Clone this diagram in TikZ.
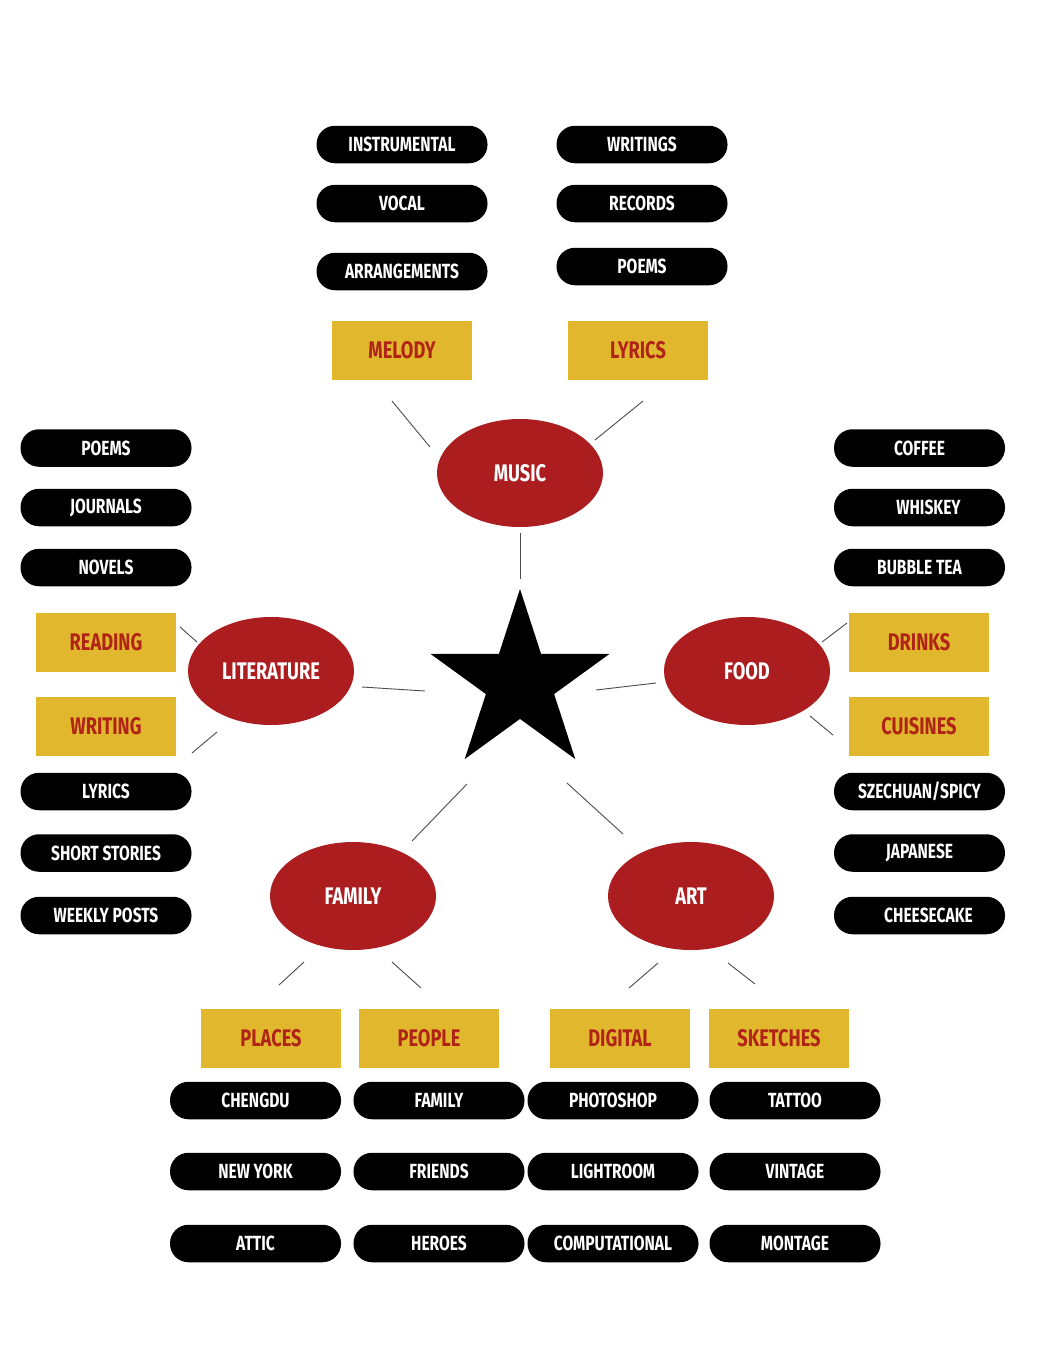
\documentclass[tikz,border=0pt]{standalone}
\usepackage{fontspec}
\usetikzlibrary{shapes.geometric}
\newfontfamily\labelfont{Fira Sans}[FakeStretch=0.76]
\definecolor{topicred}{RGB}{172,29,32}
\definecolor{tagyellow}{RGB}{225,183,46}
\definecolor{tagred}{RGB}{176,36,24}
\tikzset{
  pill/.style={rounded corners=18.5pt, fill=black, text=white, minimum width=171pt, minimum height=37.5pt, inner sep=0pt, font=\labelfont\bfseries\fontsize{20.5}{24}\selectfont},
  tag/.style={rectangle, fill=tagyellow, text=tagred, minimum width=140pt, minimum height=59pt, inner sep=0pt, font=\labelfont\bfseries\fontsize{24}{28}\selectfont},
  topic/.style={ellipse, fill=topicred, text=white, minimum width=166pt, minimum height=108pt, inner sep=0pt, font=\labelfont\bfseries\fontsize{24}{28}\selectfont},
  link/.style={draw=black!70, line width=0.9pt}
}
\begin{document}
\begin{tikzpicture}[x=1pt, y=-1pt]
    \fill[white] (0,0) rectangle (1038,1346);
    \useasboundingbox (0,0) rectangle (1038,1346);

    \node [star, star points=5, star point ratio=2.62, fill=black, minimum size=188pt, inner sep=0pt] (hub) at (520,683) {};

    \begin{scope}[every node/.style={topic}]
        \node (music) at (520,473) {MUSIC};
        \node (lit) at (271,671) {LITERATURE};
        \node (food) at (747,671) {FOOD};
        \node (family) at (353,896) {FAMILY};
        \node (art) at (691,896) {ART};
    \end{scope}

    \begin{scope}[every node/.style={tag}]
        \node (melody) at (402,350) {MELODY};
        \node (lyrics) at (638,350) {LYRICS};
        \node (reading) at (106,642) {READING};
        \node (writing) at (106,726) {WRITING};
        \node (drinks) at (919,642) {DRINKS};
        \node (cuisines) at (919,726) {CUISINES};
        \node (places) at (271,1038) {PLACES};
        \node (people) at (429,1038) {PEOPLE};
        \node (digital) at (620,1038) {DIGITAL};
        \node (sketches) at (779,1038) {SKETCHES};
    \end{scope}

    \begin{scope}[every node/.style={pill}]
        \node (instr) at (402,144.5) {INSTRUMENTAL};
        \node (vocal) at (402,203.5) {VOCAL};
        \node (arrange) at (402,271.5) {ARRANGEMENTS};
        \node (writings) at (642,144.5) {WRITINGS};
        \node (records) at (642,203.5) {RECORDS};
        \node (poemsm) at (642,266.5) {POEMS};

        \node (poemsl) at (106,448) {POEMS};
        \node (journals) at (106,507.5) {JOURNALS};
        \node (novels) at (106,567.5) {NOVELS};
        \node (lyricsl) at (106,791.5) {LYRICS};
        \node (stories) at (106,853) {SHORT STORIES};
        \node (posts) at (106,915.5) {WEEKLY POSTS};

        \node (coffee) at (919.5,448) {COFFEE};
        \node (whiskey) at (919.5,507.5) {\hspace*{18pt}WHISKEY};
        \node (bubble) at (919.5,567.5) {BUBBLE TEA};
        \node (szechuan) at (919.5,791.5) {SZECHUAN/SPICY};
        \node (japanese) at (919.5,853) {JAPANESE};
        \node (cheese) at (919.5,915.5) {\hspace*{18pt}CHEESECAKE};

        \node (chengdu) at (255.5,1100.5) {CHENGDU};
        \node (newyork) at (255.5,1171.5) {NEW YORK};
        \node (attic) at (255.5,1243.5) {ATTIC};
        \node (familyp) at (439,1100.5) {FAMILY};
        \node (friends) at (439,1171.5) {FRIENDS};
        \node (heroes) at (439,1243.5) {HEROES};
        \node (photoshop) at (613,1100.5) {PHOTOSHOP};
        \node (lightroom) at (613,1171.5) {LIGHTROOM};
        \node (computational) at (613,1243.5) {COMPUTATIONAL};
        \node (tattoo) at (795,1100.5) {TATTOO};
        \node (vintage) at (795,1171.5) {VINTAGE};
        \node (montage) at (795,1243.5) {MONTAGE};
    \end{scope}

    \begin{scope}[link]
        \draw ([shift={(0,60)}]music.center) -- ([shift={(0,-104)}]hub.center);
        \draw ([shift={(91,16)}]lit.center) -- ([shift={(-95,8)}]hub.center);
        \draw ([shift={(-91,12)}]food.center) -- ([shift={(76,7)}]hub.center);
        \draw ([shift={(59,-55)}]family.center) -- ([shift={(-53,101)}]hub.center);
        \draw ([shift={(-68,-62)}]art.center) -- ([shift={(47,100)}]hub.center);

        \draw ([shift={(-10,51)}]melody.center) -- ([shift={(-90,-26)}]music.center);
        \draw ([shift={(5,51)}]lyrics.center) -- ([shift={(75,-33)}]music.center);
        \draw ([shift={(74,-15)}]reading.center) -- ([shift={(-74,-29)}]lit.center);
        \draw ([shift={(86,27)}]writing.center) -- ([shift={(-54,61)}]lit.center);
        \draw ([shift={(-72,-19)}]drinks.center) -- ([shift={(75,-29)}]food.center);
        \draw ([shift={(-86,9)}]cuisines.center) -- ([shift={(63,45)}]food.center);
        \draw ([shift={(8,-53)}]places.center) -- ([shift={(-49,66)}]family.center);
        \draw ([shift={(-8,-50)}]people.center) -- ([shift={(39,66)}]family.center);
        \draw ([shift={(9,-50)}]digital.center) -- ([shift={(-33,67)}]art.center);
        \draw ([shift={(-24,-54)}]sketches.center) -- ([shift={(37,67)}]art.center);
    \end{scope}
\end{tikzpicture}
\end{document}
